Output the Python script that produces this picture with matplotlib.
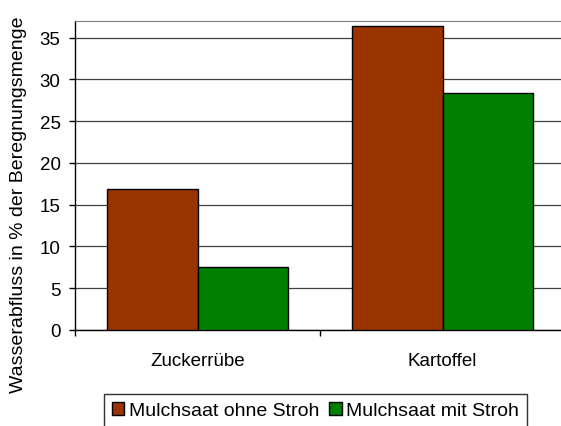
import matplotlib.pyplot as plt
import numpy as np

plt.rcParams['font.family'] = ['Liberation Sans', 'DejaVu Sans']

# Data
categories = ['Zuckerrübe', 'Kartoffel']
series_names = ['Mulchsaat ohne Stroh', 'Mulchsaat mit Stroh']
ohne_stroh = [16.9, 36.4]
mit_stroh = [7.6, 28.4]
colors = ['#993300', '#008000']


def main():
    fig = plt.figure(figsize=(5.61, 4.27), dpi=100)
    # plot area runs a little past the right edge of the picture
    ax = fig.add_axes([75 / 561, 96 / 427, 490 / 561, 309 / 427])

    x = np.arange(len(categories))
    w = 0.37
    ax.bar(x - w / 2, ohne_stroh, w, color=colors[0], edgecolor='black',
           linewidth=1, label=series_names[0], zorder=3)
    ax.bar(x + w / 2, mit_stroh, w, color=colors[1], edgecolor='black',
           linewidth=1, label=series_names[1], zorder=3)

    ax.set_xlim(-0.5, 1.5)
    ax.set_ylim(0, 37)
    ax.set_yticks(np.arange(0, 36, 5))
    ax.yaxis.grid(True, color='#404040', linewidth=0.9, zorder=0)

    # category labels centered, tick marks on group boundaries
    ax.set_xticks(x)
    ax.set_xticklabels(categories, fontsize=13.5)
    ax.tick_params(axis='x', length=0, pad=16)
    ax.set_xticks([-0.5, 0.5, 1.5], minor=True)
    ax.tick_params(axis='x', which='minor', length=4.3, width=1, direction='out')

    ax.tick_params(axis='y', labelsize=13.5, length=4.3, width=1, pad=6)
    ax.set_ylabel('Wasserabfluss in % der Beregnungsmenge', fontsize=14)
    # label sits lower than the plot centre, as in the original
    ax.yaxis.set_label_coords(-0.098, 0.408)

    ax.spines['right'].set_visible(False)
    ax.spines['top'].set_color('#808080')
    ax.spines['left'].set_linewidth(1)
    ax.spines['bottom'].set_linewidth(1)

    leg = fig.legend(loc='upper left', bbox_to_anchor=(104 / 561, 1 - 395 / 427),
                     ncol=2, fontsize=14, frameon=True, fancybox=False,
                     handlelength=0.65, handleheight=0.65, handletextpad=0.24,
                     columnspacing=0.5, borderpad=0.4, borderaxespad=0)
    leg.get_frame().set_edgecolor('black')
    leg.get_frame().set_linewidth(1)

    fig.savefig('out.png', dpi=100)


if __name__ == "__main__":
    main()
